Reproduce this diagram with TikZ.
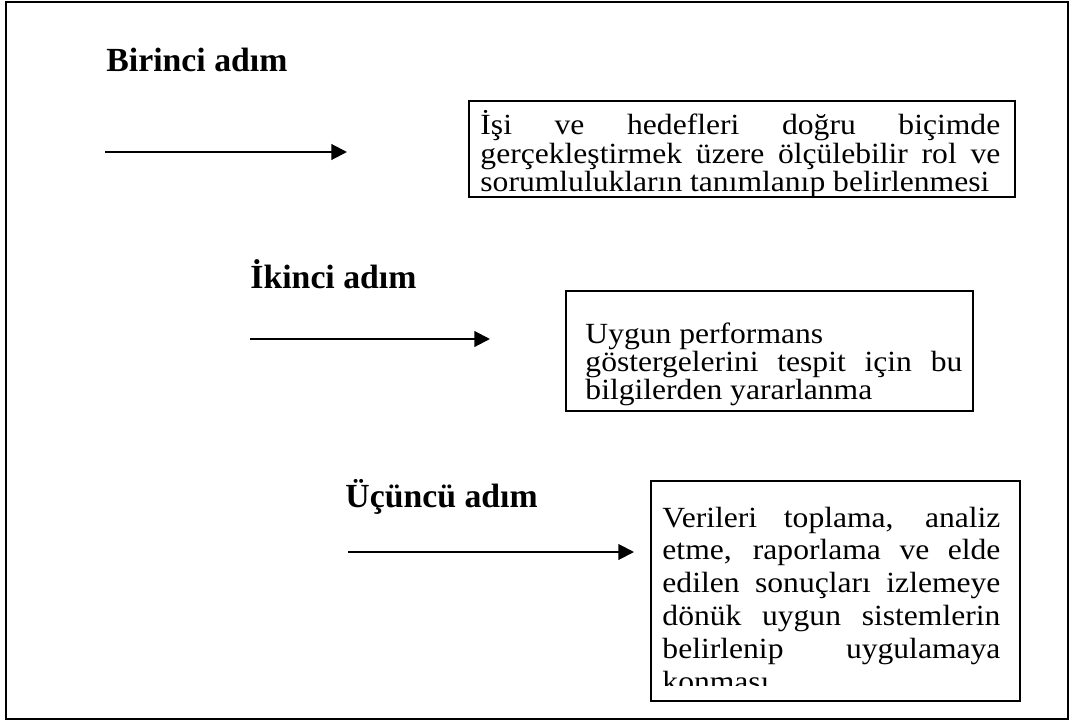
\documentclass[tikz,border=0pt]{standalone}
\usepackage{fontspec}
\setmainfont{Liberation Serif}
\newfontfamily\govde{Liberation Serif}[FakeStretch=1.08]
\usetikzlibrary{arrows.meta}
\tikzset{
	adim/.style={anchor=base west,inner sep=0pt,font=\fontsize{15}{18}\selectfont\bfseries},
	kutu/.style={draw,line width=0.9pt,anchor=north west,inner sep=0pt},
	metin/.style={anchor=base west,inner sep=0pt,align=justify,font=\govde\fontsize{13}{12.5}\selectfont},
	ok/.style={line width=0.9pt,-{Triangle[length=7pt,width=7pt]}}
}

\begin{document}
\begin{tikzpicture}[x=0.4444pt,y=-0.4444pt]
	\useasboundingbox (0,0) rectangle (1074,724);
	\draw[line width=0.9pt] (6,2) rectangle (1068,719);
	\begin{scope}
		\node[adim] (adim1) at (106,72) {Birinci adım};
		\coordinate (bas1) at (105,152);
		\coordinate (son1) at (347,152);
		\draw[ok] (bas1) -- (son1);
		\node[kutu,minimum width=242.7pt,minimum height=42.6pt] (kutu1) at (468,100) {};
		\node[metin,text width=231pt] (metin1) at (480,135)
			{İşi ve hedefleri doğru biçimde\linebreak gerçekleştirmek üzere ölçülebilir rol ve\linebreak sorumlulukların tanımlanıp belirlenmesi};
	\end{scope}
	\begin{scope}
		\node[adim] (adim2) at (250,288) {İkinci adım};
		\coordinate (bas2) at (250,339);
		\coordinate (son2) at (490,339);
		\draw[ok] (bas2) -- (son2);
		\node[kutu,minimum width=180.9pt,minimum height=53.3pt] (kutu2) at (565,290) {};
		\node[metin,text width=167.5pt] (metin2) at (585,343)
			{Uygun performans\\ göstergelerini tespit için bu\linebreak bilgilerden yararlanma};
	\end{scope}
	\begin{scope}
		\node[adim] (adim3) at (345,507) {Üçüncü adım};
		\coordinate (bas3) at (348,552);
		\coordinate (son3) at (634,552);
		\draw[ok] (bas3) -- (son3);
		\node[kutu,minimum width=164pt,minimum height=97.8pt] (kutu3) at (650,480) {};
		\begin{scope}
			\clip (kutu3.north west) rectangle ([yshift=7.3pt]kutu3.south east);
			\node[metin,text width=150.2pt,font=\govde\fontsize{13}{14.6}\selectfont] (metin3) at (662,527)
				{Verileri toplama, analiz\linebreak etme, raporlama ve elde\linebreak edilen sonuçları izlemeye\linebreak dönük uygun sistemlerin\linebreak belirlenip uygulamaya\linebreak konması};
		\end{scope}
	\end{scope}
\end{tikzpicture}
\end{document}
